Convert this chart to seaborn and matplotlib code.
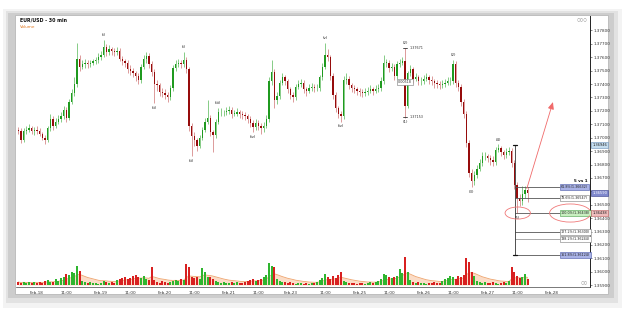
import numpy as np
import pandas as pd
import matplotlib
matplotlib.use("Agg")
import matplotlib.pyplot as plt
import matplotlib.transforms as mtransforms
from matplotlib.patches import Rectangle, Ellipse
import seaborn as sns

# ---------------- data (hourly bars, x = trading hours since Feb-18 00:00) ----------------
hours = list(range(-7, 185))
first_open = 1.3706
close = [1.3705, 1.3698, 1.3705, 1.3706, 1.3707, 1.3705, 1.3706,
         1.3705, 1.3703, 1.3700, 1.3698, 1.3707, 1.3714, 1.3709, 1.3712, 1.3714, 1.3716,
         1.3721, 1.3715, 1.3727, 1.3733, 1.3740, 1.3759, 1.3753, 1.3755, 1.3756, 1.3755,
         1.3756, 1.3757, 1.3758, 1.3760, 1.3762, 1.3768, 1.3764, 1.3766, 1.3765, 1.3764,
         1.3765, 1.3759, 1.3757, 1.3756, 1.3751, 1.3750, 1.3748, 1.3746, 1.3743, 1.3753,
         1.3759, 1.3761, 1.3755, 1.3749, 1.3740, 1.3739, 1.3734, 1.3733, 1.3732, 1.3730,
         1.3737, 1.3752, 1.3755, 1.3756, 1.3755, 1.3758, 1.3751, 1.3709, 1.3701, 1.3698,
         1.3694, 1.3700, 1.3706, 1.3712, 1.3715, 1.3704, 1.3702, 1.3712, 1.3719, 1.3719,
         1.3719, 1.3720, 1.3721, 1.3718, 1.3718, 1.3719, 1.3718, 1.3717, 1.3716, 1.3714,
         1.3711, 1.3708, 1.3711, 1.3709, 1.3707, 1.3709, 1.3714, 1.3742, 1.3749, 1.3728,
         1.3731, 1.3741, 1.3745, 1.3742, 1.3736, 1.3732, 1.3730, 1.3738, 1.3740, 1.3741,
         1.3736, 1.3735, 1.3737, 1.3738, 1.3737, 1.3737, 1.3745, 1.3753, 1.3762, 1.3760,
         1.3746, 1.3732, 1.3722, 1.3718, 1.3716, 1.3743, 1.3744, 1.3739, 1.3737, 1.3736,
         1.3735, 1.3734, 1.3733, 1.3734, 1.3735, 1.3736, 1.3735, 1.3736, 1.3737, 1.3742,
         1.3756, 1.3756, 1.3752, 1.3753, 1.3746, 1.3755, 1.3756, 1.3757, 1.3724, 1.3748,
         1.3751, 1.3744, 1.3745, 1.3742, 1.3742, 1.3744, 1.3745, 1.3743, 1.3742, 1.3741,
         1.3740, 1.3739, 1.3740, 1.3741, 1.3742, 1.3742, 1.3755, 1.3741, 1.3738, 1.3727,
         1.3718, 1.3696, 1.3674, 1.3668, 1.3672, 1.3677, 1.3681, 1.3686, 1.3686, 1.3685,
         1.3683, 1.3682, 1.3691, 1.3692, 1.3689, 1.3687, 1.3689, 1.3690, 1.3681, 1.3665,
         1.3655, 1.3653, 1.3658, 1.3661, 1.3659]
high = [1.3708, 1.3707, 1.3707, 1.3709, 1.3710, 1.3709, 1.3708,
        1.3709, 1.3707, 1.3704, 1.3702, 1.3709, 1.3718, 1.3716, 1.3715, 1.3717, 1.3719,
        1.3724, 1.3723, 1.3729, 1.3736, 1.3745, 1.3771, 1.3762, 1.3758, 1.3759, 1.3758,
        1.3758, 1.3759, 1.3760, 1.3763, 1.3765, 1.3773, 1.3770, 1.3769, 1.3768, 1.3767,
        1.3768, 1.3767, 1.3761, 1.3759, 1.3758, 1.3754, 1.3752, 1.3750, 1.3748, 1.3755,
        1.3762, 1.3764, 1.3763, 1.3757, 1.3751, 1.3743, 1.3741, 1.3737, 1.3736, 1.3734,
        1.3739, 1.3754, 1.3758, 1.3759, 1.3758, 1.3764, 1.3760, 1.3753, 1.3711, 1.3704,
        1.3700, 1.3702, 1.3708, 1.3715, 1.3728, 1.3717, 1.3706, 1.3714, 1.3722, 1.3722,
        1.3721, 1.3723, 1.3724, 1.3723, 1.3721, 1.3722, 1.3721, 1.3720, 1.3719, 1.3718,
        1.3716, 1.3713, 1.3714, 1.3713, 1.3711, 1.3712, 1.3717, 1.3745, 1.3758, 1.3751,
        1.3734, 1.3743, 1.3748, 1.3747, 1.3744, 1.3738, 1.3734, 1.3740, 1.3743, 1.3744,
        1.3743, 1.3738, 1.3740, 1.3741, 1.3740, 1.3740, 1.3747, 1.3756, 1.3771, 1.3766,
        1.3762, 1.3748, 1.3734, 1.3724, 1.3720, 1.3746, 1.3748, 1.3746, 1.3741, 1.3739,
        1.3738, 1.3737, 1.3736, 1.3737, 1.3738, 1.3739, 1.3738, 1.3739, 1.3740, 1.3745,
        1.3762, 1.3759, 1.3758, 1.3756, 1.3755, 1.3757, 1.3759, 1.3760, 1.3767, 1.3750,
        1.3754, 1.3753, 1.3748, 1.3747, 1.3745, 1.3747, 1.3748, 1.3747, 1.3746, 1.3744,
        1.3743, 1.3742, 1.3743, 1.3744, 1.3745, 1.3745, 1.3758, 1.3757, 1.3743, 1.3740,
        1.3729, 1.3720, 1.3698, 1.3677, 1.3675, 1.3680, 1.3684, 1.3689, 1.3689, 1.3688,
        1.3687, 1.3686, 1.3693, 1.3695, 1.3694, 1.3691, 1.3692, 1.3693, 1.3692, 1.3683,
        1.3667, 1.3658, 1.3664, 1.3664, 1.3663]
low = [1.3703, 1.3696, 1.3697, 1.3703, 1.3704, 1.3703, 1.3702,
       1.3703, 1.3701, 1.3698, 1.3695, 1.3697, 1.3705, 1.3706, 1.3707, 1.3710, 1.3712,
       1.3714, 1.3712, 1.3713, 1.3725, 1.3731, 1.3738, 1.3750, 1.3751, 1.3752, 1.3752,
       1.3753, 1.3754, 1.3755, 1.3756, 1.3758, 1.3760, 1.3761, 1.3762, 1.3762, 1.3761,
       1.3762, 1.3757, 1.3754, 1.3753, 1.3748, 1.3747, 1.3745, 1.3742, 1.3740, 1.3741,
       1.3751, 1.3756, 1.3752, 1.3746, 1.3726, 1.3735, 1.3731, 1.3730, 1.3729, 1.3727,
       1.3728, 1.3735, 1.3750, 1.3753, 1.3752, 1.3753, 1.3748, 1.3705, 1.3686, 1.3694,
       1.3690, 1.3692, 1.3698, 1.3704, 1.3710, 1.3701, 1.3689, 1.3700, 1.3710, 1.3716,
       1.3716, 1.3717, 1.3718, 1.3715, 1.3716, 1.3716, 1.3715, 1.3714, 1.3713, 1.3711,
       1.3708, 1.3704, 1.3706, 1.3706, 1.3703, 1.3704, 1.3707, 1.3712, 1.3739, 1.3722,
       1.3725, 1.3729, 1.3739, 1.3739, 1.3733, 1.3729, 1.3727, 1.3728, 1.3736, 1.3738,
       1.3733, 1.3731, 1.3733, 1.3735, 1.3734, 1.3735, 1.3735, 1.3743, 1.3751, 1.3757,
       1.3743, 1.3729, 1.3719, 1.3715, 1.3712, 1.3714, 1.3740, 1.3736, 1.3734, 1.3733,
       1.3732, 1.3731, 1.3730, 1.3731, 1.3732, 1.3733, 1.3732, 1.3733, 1.3734, 1.3735,
       1.3740, 1.3753, 1.3749, 1.3750, 1.3743, 1.3744, 1.3753, 1.3754, 1.3715, 1.3722,
       1.3746, 1.3741, 1.3742, 1.3739, 1.3739, 1.3740, 1.3742, 1.3740, 1.3739, 1.3737,
       1.3737, 1.3736, 1.3737, 1.3738, 1.3739, 1.3739, 1.3740, 1.3738, 1.3735, 1.3724,
       1.3715, 1.3693, 1.3671, 1.3663, 1.3665, 1.3670, 1.3675, 1.3679, 1.3683, 1.3682,
       1.3680, 1.3679, 1.3680, 1.3689, 1.3686, 1.3684, 1.3685, 1.3687, 1.3678, 1.3662,
       1.3644, 1.3649, 1.3650, 1.3655, 1.3652]
volume = [3, 2, 3, 2, 3, 2, 3,
          2, 3, 2, 4, 5, 3,
          3, 6, 4, 7, 8, 11,
          10, 13, 12, 19, 14,
          4, 3, 2, 3, 2, 2, 1, 2,
          4, 3, 2, 3, 2, 5, 6,
          7, 8, 6, 7, 9, 10, 8, 7, 9,
          6, 5, 18,
          5, 3, 2, 4, 3, 2,
          3, 4, 5, 4, 6, 5,
          21, 18, 8,
          7, 8, 6,
          17, 13, 8,
          8, 6, 4,
          3, 2, 3, 2, 2, 3, 2, 3, 2, 2, 3, 4,
          5, 6, 4, 5, 6, 8, 10,
          22, 19, 18,
          6, 4, 3, 3, 2, 3, 2,
          1, 2, 2, 1, 2, 1, 2, 2, 3,
          5, 7, 11, 8, 6, 9, 7, 10, 13,
          4, 3, 2, 2, 2, 1, 2,
          2, 1, 2, 3, 2, 3, 4,
          6, 11, 10,
          8, 7, 8, 9,
          16, 12, 28,
          13, 5,
          3, 2, 3, 2, 2, 1, 2, 2, 3, 2, 2,
          4, 6, 7, 9, 8, 6, 9,
          8, 10, 27,
          23, 13, 9,
          4, 3, 2, 3, 2, 2, 3, 2, 1, 2, 3, 2, 4,
          18, 13, 9, 7,
          8, 11, 6]

tick_hours = [0, 11, 24, 35, 48, 59, 72, 83, 95, 108, 121, 132, 145, 156, 169, 180, 193]
tick_labels = ["Feb-18", "11:00", "Feb-19", "11:00", "Feb-20", "11:00", "Feb-21", "11:00",
               "Feb-23", "11:00", "Feb-25", "11:00", "Feb-26", "11:00", "Feb-27", "11:00", "Feb-28"]
price_ticks = [1.359, 1.360, 1.361, 1.362, 1.363, 1.364, 1.365, 1.366, 1.367, 1.368,
               1.369, 1.370, 1.371, 1.372, 1.373, 1.374, 1.375, 1.376, 1.377, 1.378]

wave_labels = [("(i)", 25, "high"), ("(ii)", 44, "low"), ("(i)", 55, "high"), ("(ii)", 58, "low"),
               ("(iii)", 68, "high"), ("(iv)", 81, "low"), ("(v)", 108, "high"), ("(iv)", 114, "low"),
               ("(2)", 138, "high"), ("(1)", 138, "low"), ("(2)", 156, "high"), ("(3)", 163, "low"),
               ("(4)", 173, "high"), ("(5)", 180, "low")]
measure_hour = 138
measure_high = 1.37671
measure_low = 1.37153

fib_hour = 179.3
fib_start = 1.36946
fib_end = 1.36438
fib_ratios = [0.618, 0.786, 1.0, 1.272, 1.382, 1.618]
fib_label_hour = 196.2
target_hour = 193.5
target_price = 1.37266

n = len(hours)
assert len(close) == n and len(high) == n and len(low) == n and len(volume) == n

opens = [first_open] + close[:-1]

# ---------------- figure ----------------
sns.set_theme(style="white")
plt.rcParams["font.family"] = ["DejaVu Sans"]
W, H = 625, 312
fig = plt.figure(figsize=(W / 100, H / 100), dpi=100, facecolor="white")


def frect(x0, y0, x1, y1, **kw):
    fig.add_artist(Rectangle((x0 / W, 1 - y1 / H), (x1 - x0) / W, (y1 - y0) / H,
                             transform=fig.transFigure, zorder=-20, **kw))


# frame shadow and panel
frect(3, 9, 622, 308, facecolor="#f3f3f3", edgecolor="none")
frect(6, 11, 618, 303, facecolor="#e2e2e2", edgecolor="none")
frect(8, 13, 614, 298, facecolor="#cdcdcd", edgecolor="none")
frect(15, 15, 608, 294, facecolor="white", edgecolor="#b8b8b8", linewidth=0.6)

rect = [16 / W, (H - 287) / H, (590 - 16) / W, (287 - 16) / H]
xlim = (-7.87, 207.4)

# volume pane (behind price)
axv = fig.add_axes(rect)
axv.set_zorder(1)
axv.set_xlim(*xlim)
axv.set_ylim(-2, 269)
axv.axis("off")
vol_avg = pd.Series(volume, dtype=float).ewm(span=12).mean()
axv.fill_between(hours, 0, vol_avg, color="#fbdcc6", linewidth=0, zorder=1)
sns.lineplot(x=hours, y=vol_avg.values, ax=axv, color="#eea36c", linewidth=0.6, zorder=2)
vcolors = ["#2fb52f" if c >= o else "#d82020" for o, c in zip(opens, close)]
axv.bar(hours, volume, width=0.8, color=vcolors, linewidth=0, zorder=3)

# price pane
ax = fig.add_axes(rect)
ax.set_zorder(2)
ax.patch.set_visible(False)
ax.set_xlim(*xlim)
ax.set_ylim(1.35886, 1.37908)

up = [c >= o for o, c in zip(opens, close)]
wick_col = ["#86cc86" if u else "#dc9a9a" for u in up]
body_col = ["#1f9a1f" if u else "#960c0c" for u in up]
ax.vlines(hours, low, high, colors=wick_col, linewidth=0.7, zorder=3)
bottoms = [min(o, c) for o, c in zip(opens, close)]
heights = [max(abs(c - o), 0.00004) for o, c in zip(opens, close)]
ax.bar(hours, heights, bottom=bottoms, width=0.55, color=body_col, linewidth=0, zorder=4)

# axes styling
for s in ["top", "left"]:
    ax.spines[s].set_visible(False)
ax.spines["bottom"].set_color("#444444")
ax.spines["bottom"].set_linewidth(0.5)
ax.spines["right"].set_color("#222222")
ax.spines["right"].set_linewidth(0.7)
ax.spines["right"].set_linestyle((0, (1, 1)))
ax.yaxis.tick_right()
ax.set_yticks(price_ticks)
ax.set_yticklabels(["" if abs(v - close[-1]) < 0.00015 else f"{v:.5f}" for v in price_ticks])
ax.set_xticks(tick_hours)
ax.set_xticklabels(tick_labels)
ax.tick_params(axis="y", labelsize=3.0, length=1.5, width=0.4, pad=1, colors="#333333")
ax.tick_params(axis="x", labelsize=3.0, length=1.8, width=0.4, pad=1, colors="#333333")
ax.tick_params(left=False)
ax.grid(False)

# wave labels
for txt, hr, where in wave_labels:
    i = hours.index(hr)
    if where == "high":
        ax.annotate(txt, xy=(hr, high[i]), xytext=(0, 2.0), textcoords="offset points",
                    ha="center", va="bottom", fontsize=2.8, color="#222222", zorder=6)
    else:
        ax.annotate(txt, xy=(hr, low[i]), xytext=(0, -2.0), textcoords="offset points",
                    ha="center", va="top", fontsize=2.8, color="#222222", zorder=6)

# measurement (2)-(1)
for val in (measure_high, measure_low):
    ax.plot([measure_hour - 0.9, measure_hour + 0.9], [val, val], color="#333333", lw=0.6, zorder=6)
    ax.annotate(f"{val:.5f}", xy=(measure_hour, val), xytext=(3, 0), textcoords="offset points",
                ha="left", va="center", fontsize=2.4, color="#333333", zorder=6)
ax.text(measure_hour, (measure_high + measure_low) / 2, f"{measure_high - measure_low:.5f}",
        ha="center", va="center", fontsize=2.4, color="#333333", zorder=7,
        bbox=dict(boxstyle="square,pad=0.3", fc="white", ec="#777777", lw=0.4))

# fibonacci extension
levels = [fib_start - r * (fib_start - fib_end) for r in fib_ratios]
ax.vlines(fib_hour, levels[-1], fib_start, color="#333333", linewidth=0.6, zorder=6)
for val in (fib_start, levels[-1]):
    ax.plot([fib_hour - 0.9, fib_hour + 0.9], [val, val], color="#111111", lw=0.9, zorder=6)
fib_style = {0.618: ("#a9b2e6", "#4a58a8"), 1.618: ("#a9b2e6", "#4a58a8"), 1.0: ("#c8efc0", "#48a048")}
for r, lv in zip(fib_ratios, levels):
    ax.hlines(lv, fib_hour, fib_label_hour, color="#555555" if r != 1.382 else "#9a9a9a",
              linewidth=0.6, zorder=5)
    fc, ec = fib_style.get(r, ("white", "#7a7a7a"))
    ax.text(fib_label_hour + 0.3, lv, f"{r * 100:.1f}%({lv:.5f})", ha="left", va="center",
            fontsize=2.4, color="#222222", zorder=7,
            bbox=dict(boxstyle="square,pad=0.3", fc=fc, ec=ec, lw=0.4))
ax.text(fib_label_hour + 10.3, levels[0] + 0.00033, "5 vs 1", ha="right", va="bottom",
        fontsize=3.0, fontweight="bold", color="#111111", zorder=7)

# red ellipses and projection arrow
ax.add_patch(Ellipse((fib_hour + 1.0, fib_end), width=9.5, height=0.0009, fill=False,
                     edgecolor="#f07878", linewidth=0.6, zorder=8))
ax.add_patch(Ellipse((fib_label_hour + 3.8, fib_end), width=15.5, height=0.00135, fill=False,
                     edgecolor="#f07878", linewidth=0.6, zorder=8))
ax.annotate("", xy=(target_hour, target_price), xytext=(hours[-1] - 0.3, close[-1] + 0.0003),
            arrowprops=dict(arrowstyle="-|>,head_length=0.35,head_width=0.15", color="#f06a6a",
                            lw=0.6, shrinkA=0, shrinkB=0), zorder=8)

# right-axis price markers
btrans = mtransforms.blended_transform_factory(ax.transAxes, ax.transData)
markers = [(fib_start, "#c4dcee", "#6a8fb8", "#222222"),
           (close[-1], "#7f88cc", "#343c88", "white"),
           (fib_end, "#efbcbc", "#b85a5a", "#222222")]
for val, fc, ec, tc in markers:
    ax.text(1.004, val, f"{val:.5f}", transform=btrans, ha="left", va="center", fontsize=2.6,
            color=tc, zorder=9, clip_on=False,
            bbox=dict(boxstyle="square,pad=0.25", fc=fc, ec=ec, lw=0.4))

# titles and small icons
fig.text(20 / W, 1 - 20 / H, "EUR/USD - 30 min", fontsize=3.4, fontweight="bold",
         color="#111111", va="center", ha="left")
fig.text(20 / W, 1 - 27 / H, "Volume", fontsize=3.0, color="#e27a22", va="center", ha="left")
fig.text(588 / W, 1 - 20 / H, "\u25cb\u25cb\u25cb", fontsize=3.0, color="#888888", va="center", ha="right")
fig.text(588 / W, 1 - 283 / H, "\u25cb\u25cb", fontsize=3.0, color="#888888", va="center", ha="right")

fig.savefig("out.png", dpi=100, facecolor="white")
